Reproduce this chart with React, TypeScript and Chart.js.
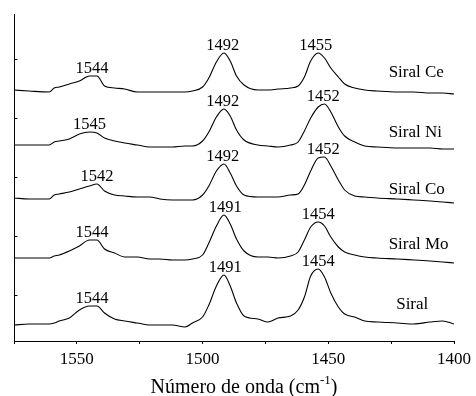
import React, { useEffect, useRef } from 'react';
import { Chart, registerables } from 'chart.js';

Chart.register(...registerables);

// Wavenumber grid (cm-1), shared by all spectra
const wavenumbers = [
  1575, 1569, 1561, 1559, 1557, 1553, 1549, 1545, 1542, 1539,
  1535, 1531, 1526, 1521, 1517, 1512, 1507, 1504, 1500, 1497.5,
  1494.5, 1491.5, 1489, 1486.5, 1483.5, 1478, 1474, 1470, 1465, 1462,
  1459.5, 1457, 1454, 1451.5, 1449, 1446, 1443.5, 1439.5, 1435.5, 1430.5,
  1422.5, 1416, 1409.5, 1404.5, 1400,
];

// Offset absorbance (arbitrary units) for each sample
const siralCe = [
  251, 250, 249, 253, 254, 257, 260, 265, 265, 255,
  253, 252, 249, 249, 249, 249, 249, 250, 254, 263,
  279, 288, 280, 265, 256, 251, 251, 252, 253, 255,
  264, 280, 288, 283, 273, 264, 257, 253, 251, 250,
  249, 249, 248, 248, 247,
];
const siralNi = [
  196, 196, 196, 199, 200, 202, 207, 209, 208, 203,
  200, 198, 196, 194, 194, 194, 195, 195, 200, 209,
  224, 232, 225, 211, 201, 196, 195, 194, 196, 199,
  210, 223, 234, 237, 229, 214, 205, 199, 195, 194,
  193, 193, 193, 192, 192,
];
const siralCo = [
  143, 142, 142, 146, 147, 149, 152, 155, 157, 150,
  146, 145, 144, 144, 142, 141, 141, 141, 146, 155,
  170, 177, 168, 155, 146, 144, 144, 144, 146, 147,
  156, 170, 183, 184, 175, 161, 151, 145, 144, 143,
  142, 141, 140, 139, 138,
];
const siralMo = [
  83, 83, 83, 85, 86, 90, 95, 101, 101, 92,
  88, 84, 84, 82, 82, 81, 81, 82, 86, 98,
  115, 126, 117, 102, 90, 84, 84, 83, 85, 89,
  101, 114, 119, 115, 104, 94, 89, 86, 84, 83,
  82, 81, 80, 79, 78,
];
const siral = [
  16, 17, 17, 18, 20, 23, 31, 35, 35, 28,
  22, 20, 18, 16, 16, 16, 14, 18, 24, 36,
  55, 66, 55, 38, 25, 22, 19, 23, 25, 31,
  44, 65, 72, 64, 48, 34, 27, 24, 20, 19,
  18, 17, 19, 20, 17,
];

const seriesNames = ['Siral Ce', 'Siral Ni', 'Siral Co', 'Siral Mo', 'Siral'];
const seriesValues = [siralCe, siralNi, siralCo, siralMo, siral];
const peakLabels = [
  ['1544', '1492', '1455'],
  ['1545', '1492', '1452'],
  ['1542', '1492', '1452'],
  ['1544', '1491', '1454'],
  ['1544', '1491', '1454'],
];
const xTickLabels = [1550, 1500, 1450, 1400];
const yTickValues = [46, 105, 164, 223, 282];

// layout of the sample names (data coordinates)
const nameX = [1426, 1426, 1426, 1426, 1423];
const nameY = [268, 208, 151, 96, 36];

const FONT = '"Liberation Serif", "Times New Roman", serif';

const overlayPlugin = {
  id: 'overlay',
  afterDraw(chart: any) {
    const { ctx, chartArea, scales } = chart;
    const xs = scales.x;
    const ys = scales.y;
    ctx.save();
    ctx.strokeStyle = '#000';
    ctx.lineWidth = 1;
    // left axis with inward ticks
    const lx = Math.round(chartArea.left) + 0.5;
    ctx.beginPath();
    ctx.moveTo(lx, chartArea.top);
    ctx.lineTo(lx, chartArea.bottom);
    yTickValues.forEach((v) => {
      const py = Math.round(ys.getPixelForValue(v)) + 0.5;
      ctx.moveTo(lx, py);
      ctx.lineTo(lx + 3, py);
    });
    ctx.stroke();

    ctx.fillStyle = '#000';
    // peak labels
    ctx.font = `16.5px ${FONT}`;
    ctx.textAlign = 'center';
    ctx.textBaseline = 'alphabetic';
    seriesValues.forEach((vals, i) => {
      peakLabels[i].forEach((lbl) => {
        const wn = Number(lbl);
        let best = -Infinity;
        wavenumbers.forEach((w, j) => {
          if (Math.abs(w - wn) <= 6 && vals[j] > best) best = vals[j];
        });
        ctx.fillText(lbl, xs.getPixelForValue(wn), ys.getPixelForValue(best) - 3);
      });
    });

    // sample names
    ctx.font = `17px ${FONT}`;
    ctx.textAlign = 'left';
    ctx.textBaseline = 'middle';
    seriesNames.forEach((n, i) => {
      ctx.fillText(n, xs.getPixelForValue(nameX[i]), ys.getPixelForValue(nameY[i]));
    });

    // x-axis title with superscript
    const main = 'Número de onda (cm';
    const sup = '-1';
    const tail = ')';
    ctx.textAlign = 'left';
    ctx.textBaseline = 'alphabetic';
    ctx.font = `20px ${FONT}`;
    const w1 = ctx.measureText(main).width;
    const w3 = ctx.measureText(tail).width;
    ctx.font = `13px ${FONT}`;
    const w2 = ctx.measureText(sup).width;
    const total = w1 + w2 + w3;
    const cx = (chartArea.left + chartArea.right) / 2 + 10;
    const baseY = xs.bottom - 3;
    let sx = cx - total / 2;
    ctx.font = `20px ${FONT}`;
    ctx.fillText(main, sx, baseY);
    sx += w1;
    ctx.font = `13px ${FONT}`;
    ctx.fillText(sup, sx, baseY - 9);
    sx += w2;
    ctx.font = `20px ${FONT}`;
    ctx.fillText(tail, sx, baseY);
    ctx.restore();
  },
};

export default function App() {
  const canvasRef = useRef<HTMLCanvasElement | null>(null);

  useEffect(() => {
    const canvas = canvasRef.current;
    if (!canvas) return;
    const chart = new Chart(canvas, {
      type: 'line',
      data: {
        datasets: seriesValues.map((vals, i) => ({
          label: seriesNames[i],
          data: vals.map((v, j) => ({ x: wavenumbers[j], y: v })),
          borderColor: '#000',
          borderWidth: 1.1,
          pointRadius: 0,
          fill: false,
          cubicInterpolationMode: 'monotone' as const,
        })),
      },
      options: {
        responsive: false,
        animation: false,
        layout: { padding: { left: 14, right: 19, top: 14, bottom: 0 } },
        plugins: {
          legend: { display: false },
          tooltip: { enabled: false },
          title: { display: false },
        },
        scales: {
          x: {
            type: 'linear',
            reverse: true,
            min: 1400,
            max: 1575,
            border: { display: true, color: '#000', width: 1 },
            grid: {
              display: true,
              drawOnChartArea: false,
              drawTicks: true,
              tickLength: 3,
              color: '#000',
            },
            ticks: {
              stepSize: 25,
              autoSkip: false,
              maxRotation: 0,
              padding: 5,
              color: '#000',
              font: { family: FONT, size: 17 },
              callback: (v: any) => (xTickLabels.includes(Number(v)) ? String(v) : ''),
            },
            afterFit: (scale: any) => {
              scale.height = 55;
            },
          },
          y: {
            type: 'linear',
            display: false,
            min: 0,
            max: 327,
          },
        },
      },
      plugins: [overlayPlugin],
    } as any);
    return () => chart.destroy();
  }, []);

  return (
    <div style={{ position: 'absolute', left: 0, top: 0, width: 476, height: 396, background: '#fff' }}>
      <canvas ref={canvasRef} width={476} height={396} style={{ display: 'block' }} />
    </div>
  );
}
